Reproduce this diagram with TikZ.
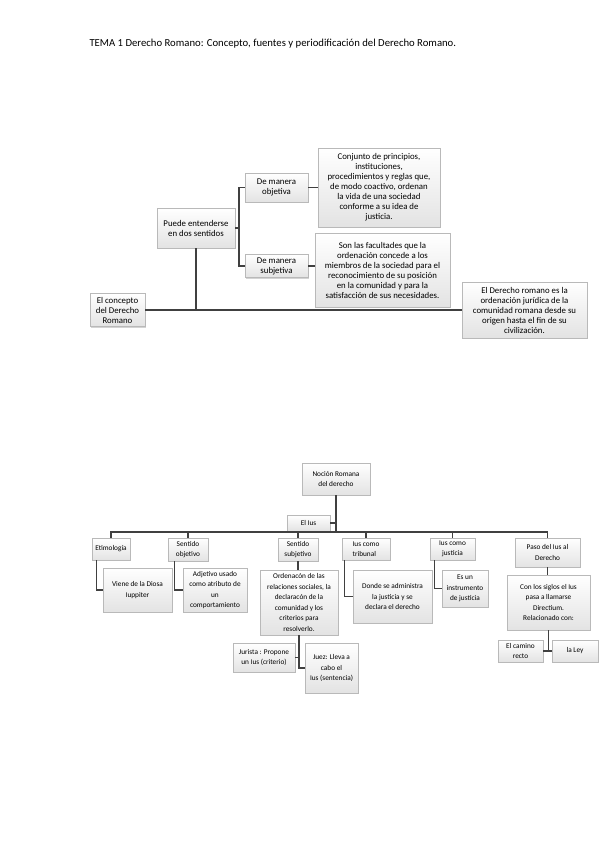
\documentclass[tikz,border=0pt]{standalone}
\usepackage{fontspec}
\setmainfont{Carlito}
\usetikzlibrary{shadows}
\usetikzlibrary{positioning}
\tikzset{caja/.style={ % cuadro con degradado y sombra
           draw=gray!55, thin,
           top color=white, bottom color=gray!22,
           drop shadow={shadow xshift=1.2pt, shadow yshift=-1.2pt, opacity=0.35},
           align=center, inner sep=0.5pt},
         grande/.style={caja, font=\fontsize{8.8}{10}\selectfont},
         chica/.style={caja, font=\fontsize{7.3}{10.5}\selectfont},
         linea/.style={draw=black!75, line width=1.1pt}}

\begin{document}
\begin{tikzpicture}[x=1pt,y=-1pt]
      \useasboundingbox (0,0) rectangle (600,848);
      \node[anchor=base west, font=\fontsize{10.7}{12}\selectfont] (titulo) at (86,47)
        {TEMA 1 Derecho Romano: Concepto, fuentes y periodificación del Derecho Romano.};

      % concepto del Derecho Romano
      \node[grande, minimum width=55pt, minimum height=33pt] (concepto) at (117.5,310) {El concepto\\del Derecho\\Romano};
      \node[grande, minimum width=78pt, minimum height=40pt] (sentidos) at (196,228) {Puede entenderse\\en dos sentidos};
      \node[grande, minimum width=63pt, minimum height=29pt] (objetiva) at (276.5,187.5) {De manera\\objetiva};
      \node[grande, minimum width=63pt, minimum height=23pt] (subjetiva) at (276.5,266) {De manera\\subjetiva};
      \node[grande, minimum width=122pt, minimum height=79pt] (conjunto) at (379,187.5) {Conjunto de principios,\\instituciones,\\procedimientos y reglas que,\\de modo coactivo, ordenan\\la vida de una sociedad\\conforme a su idea de\\justicia.};
      \node[grande, minimum width=135pt, minimum height=74pt] (facultades) at (382.5,270) {Son las facultades que la\\ordenación concede a los\\miembros de la sociedad para el\\reconocimiento de su posición\\en la comunidad y para la\\satisfacción de sus necesidades.};
      \node[grande, minimum width=125pt, minimum height=56pt] (romano) at (524.5,310) {El Derecho romano es la\\ordenación jurídica de la\\comunidad romana desde su\\origen hasta el fin de su\\civilización.};

      \coordinate (llave) at (239,228);
      \draw[linea] (concepto.east) -- (romano.west);
      \draw[linea] (sentidos.south) -- (sentidos.south |- concepto.east);
      \draw[linea] (sentidos.east) -- (llave);
      \draw[linea] (objetiva.west) -| (llave) |- (subjetiva.west);
      \draw[linea] (objetiva) -- (conjunto);
      \draw[linea] (subjetiva.east) -- (subjetiva.east -| facultades.west);

      % nocion romana del derecho
      \node[chica, minimum width=68pt, minimum height=32pt] (nocion) at (336,479) {Noción Romana\\del derecho};
      \node[chica, minimum width=43pt, minimum height=16pt] (ius) at (308.5,523) {El Ius};
      \coordinate (barra) at (336,532);

      \node[chica, minimum width=38pt, minimum height=22pt] (etimologia) at (111,549) {Etimología};
      \node[chica, minimum width=40pt, minimum height=23pt] (objetivo) at (188,549.5) {Sentido\\objetivo};
      \node[chica, minimum width=40pt, minimum height=23pt] (subjetivo) at (298,549.5) {Sentido\\subjetivo};
      \node[chica, minimum width=48pt, minimum height=22pt, align=left] (tribunal) at (366,549) {Ius como\\tribunal};
      \node[chica, minimum width=45pt, minimum height=22pt] (justicia) at (452.5,549) {Ius como\\justicia};
      \node[chica, minimum width=65pt, minimum height=29pt] (paso) at (547.5,552.5) {Paso del Ius al\\Derecho};

      \node[chica, minimum width=69pt, minimum height=44pt] (diosa) at (137.5,590) {Viene de la Diosa\\Iuppiter};
      \node[chica, minimum width=64pt, minimum height=44pt] (adjetivo) at (215,590) {Adjetivo usado\\como atributo de\\un\\comportamiento};
      \node[chica, minimum width=78pt, minimum height=65pt] (ordenacion) at (299,602.5) {Ordenacón de las\\relaciones sociales, la\\declaracón de la\\comunidad y los\\criterios para\\resolverlo.};
      \node[chica, minimum width=79pt, minimum height=53pt] (administra) at (392.5,596.5) {Donde se administra\\la justicia y se\\declara el derecho};
      \node[chica, minimum width=46pt, minimum height=37pt] (instrumento) at (465,588.5) {Es un\\instrumento\\de justicia};
      \node[chica, minimum width=83pt, minimum height=55pt] (siglos) at (548.5,602.5) {Con los siglos el Ius\\pasa a llamarse\\Directium.\\Relacionado con:};

      \node[chica, minimum width=62pt, minimum height=29pt] (jurista) at (264,657.5) {Jurista : Propone\\un Ius (criterio)};
      \node[chica, minimum width=53pt, minimum height=50pt] (juez) at (331.5,668) {Juez: Lleva a\\cabo el\\Ius (sentencia)};
      \node[chica, minimum width=45pt, minimum height=22pt] (camino) at (520.5,651) {El camino\\recto};
      \node[chica, minimum width=46pt, minimum height=22pt] (ley) at (575,651) {la Ley};

      \draw[linea] (nocion.south) -- (barra);
      \draw[linea] (ius.east) -- (ius.east -| barra);
      \foreach \n in {etimologia,objetivo,subjetivo,tribunal,justicia,paso}
        \draw[linea] (barra) -| (\n.north);

      \draw[linea] ([xshift=5pt]etimologia.south west) |- (diosa.west);
      \draw[linea] ([xshift=7pt]objetivo.south west) |- (adjetivo.west);
      \draw[linea] (subjetivo.south) -- (subjetivo.south |- ordenacion.north);
      \draw[linea] ([xshift=3pt]tribunal.south west) |- (administra.west);
      \draw[linea] ([xshift=5pt]justicia.south west) |- (instrumento.west);
      \draw[linea] (paso.south) -- (paso.south |- siglos.north);
      \draw[linea] (ordenacion.south) |- (jurista.east);
      \draw[linea] (ordenacion.south) |- (juez.west);
      \draw[linea] (siglos.south) -- (siglos.south |- camino.east);
      \draw[linea] (camino) -- (ley);
\end{tikzpicture}
\end{document}
